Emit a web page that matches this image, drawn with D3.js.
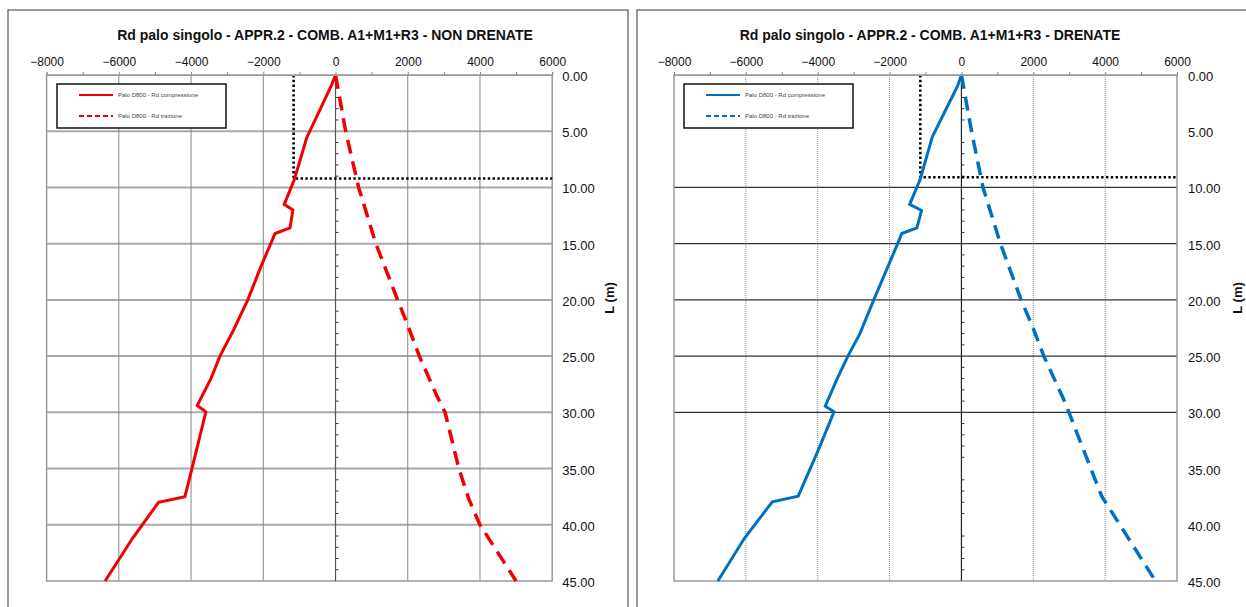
<!DOCTYPE html>
<html>
<head>
<meta charset="utf-8">
<script src="https://cdn.jsdelivr.net/npm/d3@7"></script>
<style>
  body { margin: 0; background: #fff; }
  svg { display: block; font-family: "Liberation Sans", Arial, sans-serif; }
</style>
</head>
<body>
<svg id="chart" width="1246" height="607"></svg>
<script>
// axis ticks
const xTicks = [-8000, -6000, -4000, -2000, 0, 2000, 4000, 6000];
const xMinor = [-7000, -5000, -3000, -1000, 1000, 3000, 5000];
const yTicks = [0, 5, 10, 15, 20, 25, 30, 35, 40, 45];
const yMinor = [1, 2, 3, 4, 6, 7, 8, 9, 11, 12, 13, 14, 16, 17, 18, 19, 21, 22, 23, 24,
                26, 27, 28, 29, 31, 32, 33, 34, 36, 37, 38, 39, 41, 42, 43, 44];
const legendNames = ["Palo D800 - Rd compressione", "Palo D800 - Rd trazione"];

// NON DRENATE (left)
const ndComprDepth = [0, 0.9, 5.6, 9.3, 11.5, 12.0, 13.6, 14.1, 17.0, 20.0, 22.7, 25.0, 27.0, 29.4, 29.95, 35.0, 37.5, 38.0, 41.2, 45.0];
const ndComprRd    = [0, -110, -800, -1140, -1420, -1180, -1260, -1675, -2060, -2430, -2826, -3200, -3450, -3830, -3590, -3975, -4170, -4900, -5620, -6380];
const ndTrazDepth  = [0, 5, 10, 15, 20, 22, 25, 28.5, 30, 35, 37.7, 40, 42, 45];
const ndTrazRd     = [0, 280, 640, 1117, 1719, 1970, 2321, 2800, 3033, 3416, 3690, 3997, 4400, 5000];
const ndLimit = [-1160, 9.2];

// DRENATE (right)
const drComprDepth = [0, 1.0, 5.5, 9.3, 11.5, 12.05, 13.6, 14.1, 15.0, 20.0, 23.0, 25.0, 27.0, 29.45, 29.95, 33.4, 37.45, 37.95, 41.2, 45.0];
const drComprRd    = [0, -110, -810, -1150, -1440, -1110, -1240, -1660, -1775, -2440, -2825, -3160, -3457, -3790, -3546, -3990, -4543, -5263, -6040, -6780];
const drTrazDepth  = [0, 5, 10, 15, 20, 22.5, 25, 28.7, 30, 35, 37.5, 40, 45];
const drTrazRd     = [0, 280, 600, 1086, 1662, 1994, 2293, 2825, 2992, 3601, 3911, 4410, 5400];
const drLimit = [-1145, 9.1];

const svg = d3.select("#chart");
svg.append("rect").attr("width", 1246).attr("height", 607).attr("fill", "#fff");

function drawChart(o) {
    const x = d3.scaleLinear().domain([-8000, 6000]).range([o.left, o.right]);
    const y = d3.scaleLinear().domain([0, 45]).range([o.top, o.bottom]);

    // frame
    svg.append("rect")
        .attr("x", o.fx).attr("y", 10)
        .attr("width", o.fw).attr("height", 640)
        .attr("fill", "none").attr("stroke", "#555").attr("stroke-width", 1.2);

    svg.append("text")
        .attr("x", o.titleX).attr("y", 40)
        .attr("text-anchor", "middle")
        .style("font-size", "14px").style("font-weight", "bold")
        .attr("fill", "#111")
        .text(o.title);

    const plot = svg.append("g");

    // grid
    if (o.style === "A") {
        plot.selectAll(".hg").data(yTicks.filter(d => d > 0 && d < 45)).enter()
            .append("line")
            .attr("x1", o.left).attr("x2", o.right)
            .attr("y1", d => y(d)).attr("y2", d => y(d))
            .attr("stroke", "#a8a8a8").attr("stroke-width", 2);
        plot.selectAll(".vg").data(xTicks.filter(d => d !== 0 && d > -8000 && d < 6000)).enter()
            .append("line")
            .attr("x1", d => x(d)).attr("x2", d => x(d))
            .attr("y1", o.top).attr("y2", o.bottom)
            .attr("stroke", "#888").attr("stroke-width", 1);
    } else {
        plot.selectAll(".vg").data(xTicks.filter(d => d !== 0 && d > -8000 && d < 6000)).enter()
            .append("line")
            .attr("x1", d => x(d)).attr("x2", d => x(d))
            .attr("y1", o.top).attr("y2", o.bottom)
            .attr("stroke", "#8a8a8a").attr("stroke-width", 1)
            .attr("stroke-dasharray", "1,1");
        plot.selectAll(".hg").data(o.darkRows).enter()
            .append("line")
            .attr("x1", o.left).attr("x2", o.right)
            .attr("y1", d => y(d)).attr("y2", d => y(d))
            .attr("stroke", "#333").attr("stroke-width", 1.2);
    }

    // plot border
    plot.append("rect")
        .attr("x", o.left).attr("y", o.top)
        .attr("width", o.right - o.left).attr("height", o.bottom - o.top)
        .attr("fill", "none").attr("stroke", "#999").attr("stroke-width", 1.5);

    // zero axis with minor ticks
    plot.append("line")
        .attr("x1", x(0)).attr("x2", x(0)).attr("y1", o.top).attr("y2", o.bottom)
        .attr("stroke", o.style === "A" ? "#555" : "#222").attr("stroke-width", 1.2);
    plot.selectAll(".mt").data(yMinor).enter()
        .append("line")
        .attr("x1", x(0)).attr("x2", x(0) + 3)
        .attr("y1", d => y(d)).attr("y2", d => y(d))
        .attr("stroke", "#333").attr("stroke-width", 1);

    // top axis
    const topTicks = svg.append("g").attr("transform", `translate(0,${o.top})`)
        .call(d3.axisTop(x).tickValues(xTicks.concat(xMinor)).tickSize(3).tickFormat(""));
    topTicks.select(".domain").attr("stroke", "#999");
    topTicks.selectAll(".tick line").attr("stroke", "#888");

    const topLabels = svg.append("g").attr("transform", `translate(0,${o.top})`)
        .call(d3.axisTop(x).tickValues(xTicks).tickSize(0).tickPadding(9).tickFormat(d3.format("d")));
    topLabels.select(".domain").remove();
    topLabels.selectAll("text")
        .style("font-size", "12px")
        .style("font-family", "'Liberation Sans', Arial, sans-serif")
        .attr("fill", "#111");

    // right axis
    const rightLabels = svg.append("g").attr("transform", `translate(${o.right},0)`)
        .call(d3.axisRight(y).tickValues(yTicks).tickSize(0).tickPadding(o.rPad).tickFormat(d3.format(".2f")));
    rightLabels.select(".domain").remove();
    rightLabels.selectAll("text")
        .style("font-size", "13px")
        .style("font-family", "'Liberation Sans', Arial, sans-serif")
        .attr("dy", "0.42em")
        .attr("fill", "#111");

    svg.append("text")
        .attr("transform", `translate(${o.labelX},298) rotate(-90)`)
        .attr("text-anchor", "middle")
        .style("font-size", "13px").style("font-weight", "bold")
        .attr("fill", "#111")
        .text("L (m)");

    // limit dotted lines
    plot.append("path")
        .attr("d", `M${x(o.limit[0])},${y(0)}V${y(o.limit[1])}H${x(6000)}`)
        .attr("fill", "none").attr("stroke", "#000").attr("stroke-width", 2.6)
        .attr("stroke-dasharray", "2.4,2.4");

    const line = d3.line().x(d => x(d[1])).y(d => y(d[0]));

    plot.append("path")
        .datum(d3.zip(o.comprDepth, o.comprRd))
        .attr("d", line)
        .attr("fill", "none").attr("stroke", o.color).attr("stroke-width", 3)
        .attr("stroke-linejoin", "miter");

    plot.append("path")
        .datum(d3.zip(o.trazDepth, o.trazRd))
        .attr("d", line)
        .attr("fill", "none").attr("stroke", o.color).attr("stroke-width", 3.5)
        .attr("stroke-dasharray", "14,8");

    // legend
    const lg = svg.append("g");
    lg.append("rect")
        .attr("x", o.lgX).attr("y", 84).attr("width", 169).attr("height", 44)
        .attr("fill", "#fff").attr("stroke", "#111").attr("stroke-width", 1.5);
    legendNames.forEach((name, i) => {
        const ly = i === 0 ? 95 : 116;
        lg.append("line")
            .attr("x1", o.lgX + 22).attr("x2", o.lgX + 56)
            .attr("y1", ly).attr("y2", ly)
            .attr("stroke", o.color).attr("stroke-width", 2)
            .attr("stroke-dasharray", i === 0 ? null : "5,3");
        lg.append("text")
            .attr("x", o.lgX + 61).attr("y", ly + 2)
            .style("font-size", "6px")
            .attr("fill", "#444")
            .text(name);
    });
}

drawChart({
    fx: 8, fw: 620, titleX: 325,
    title: "Rd palo singolo - APPR.2 - COMB. A1+M1+R3 - NON DRENATE",
    left: 46.6, right: 552.2, top: 75, bottom: 581,
    rPad: 10, labelX: 614, style: "A",
    color: "#f00000", lgX: 57,
    limit: ndLimit,
    comprDepth: ndComprDepth, comprRd: ndComprRd,
    trazDepth: ndTrazDepth, trazRd: ndTrazRd
});

drawChart({
    fx: 637, fw: 640, titleX: 930,
    title: "Rd palo singolo - APPR.2 - COMB. A1+M1+R3 - DRENATE",
    left: 674, right: 1177, top: 75, bottom: 581,
    rPad: 11, labelX: 1242, style: "B", darkRows: [10, 15, 20, 25, 30],
    color: "#0070c0", lgX: 684,
    limit: drLimit,
    comprDepth: drComprDepth, comprRd: drComprRd,
    trazDepth: drTrazDepth, trazRd: drTrazRd
});
</script>
</body>
</html>
